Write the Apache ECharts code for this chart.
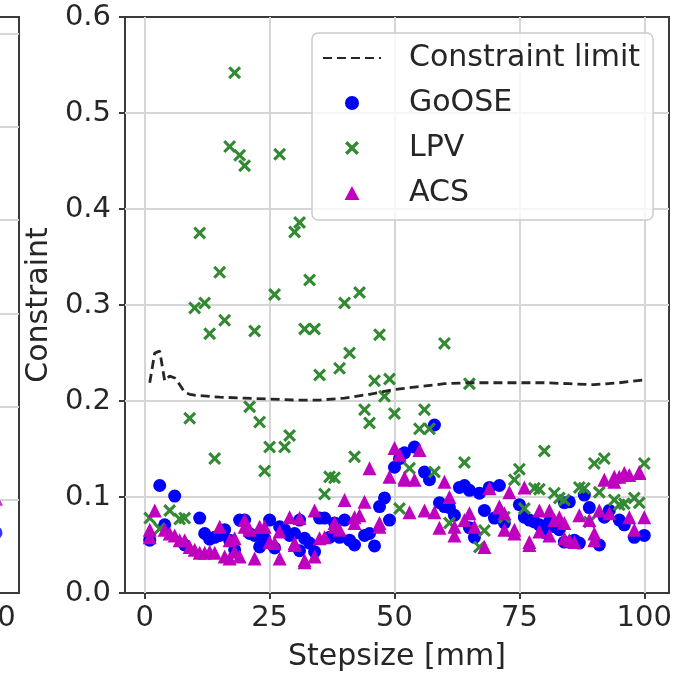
<!DOCTYPE html>
<html>
<head>
<meta charset="utf-8">
<script src="https://cdn.jsdelivr.net/npm/echarts@6/dist/echarts.min.js"></script>
<style>
  html, body { margin: 0; padding: 0; background: #fff; }
  #vis { width: 693px; height: 674px; }
</style>
</head>
<body>
<div id="vis"></div>
<script>
// ---- data ----
const xTicks = [0, 25, 50, 75, 100];

// dashed constraint limit
const limitX = [1, 2, 3, 4, 5, 6, 7, 8, 9, 10, 15, 20, 25, 30, 35, 40, 45, 50, 55, 60, 65, 70, 75, 80, 85, 90, 95, 100];
const limitY = [0.219, 0.250, 0.252, 0.221, 0.226, 0.224, 0.217, 0.209, 0.207, 0.206, 0.204, 0.203, 0.202, 0.201, 0.201, 0.203, 0.207, 0.212, 0.215, 0.218, 0.219, 0.219, 0.219, 0.219, 0.218, 0.217, 0.219, 0.222];

// GoOSE (blue circles)
const gooseX = [1, 3, 4, 6, 8, 11, 12, 13, 14, 15, 16, 17, 18, 19, 20, 21, 22, 23, 24, 25, 26, 27, 28, 29, 30, 31, 31, 32, 33, 34, 35, 36, 37, 38, 39, 40, 41, 42, 44, 45, 46, 47, 48, 49, 50, 51, 52, 54, 56, 57, 58, 59, 60, 61, 62, 63, 64, 65, 65, 66, 67, 68, 69, 70, 71, 72, 75, 76, 77, 78, 79, 80, 81, 82, 83, 84, 84, 85, 86, 87, 88, 89, 91, 92, 93, 95, 96, 98, 100];
const gooseY = [0.055, 0.112, 0.071, 0.101, 0.050, 0.078, 0.062, 0.056, 0.058, 0.060, 0.066, 0.055, 0.045, 0.076, 0.076, 0.062, 0.060, 0.048, 0.057, 0.076, 0.047, 0.069, 0.066, 0.060, 0.062, 0.076, 0.044, 0.057, 0.052, 0.043, 0.078, 0.078, 0.058, 0.073, 0.058, 0.076, 0.055, 0.050, 0.060, 0.062, 0.049, 0.090, 0.099, 0.076, 0.131, 0.140, 0.146, 0.152, 0.126, 0.118, 0.175, 0.094, 0.090, 0.089, 0.081, 0.110, 0.112, 0.107, 0.068, 0.058, 0.104, 0.086, 0.110, 0.078, 0.112, 0.073, 0.092, 0.079, 0.076, 0.074, 0.071, 0.063, 0.074, 0.069, 0.066, 0.094, 0.053, 0.095, 0.055, 0.052, 0.102, 0.089, 0.050, 0.079, 0.086, 0.076, 0.071, 0.058, 0.060];

// LPV (green crosses)
const lpvX = [1, 3, 5, 7, 8, 9, 10, 11, 12, 13, 14, 15, 16, 17, 18, 19, 20, 21, 22, 23, 24, 25, 26, 27, 28, 29, 30, 31, 32, 33, 34, 35, 36, 37, 38, 39, 40, 41, 42, 43, 44, 45, 46, 47, 48, 49, 50, 51, 53, 55, 56, 57, 58, 60, 61, 64, 65, 67, 68, 72, 74, 75, 76, 78, 79, 80, 82, 83, 84, 87, 88, 89, 90, 91, 92, 94, 95, 96, 98, 99, 100];
const lpvY = [0.078, 0.067, 0.086, 0.077, 0.078, 0.182, 0.297, 0.375, 0.302, 0.270, 0.140, 0.334, 0.284, 0.465, 0.542, 0.456, 0.445, 0.194, 0.273, 0.178, 0.127, 0.152, 0.311, 0.457, 0.152, 0.164, 0.376, 0.386, 0.275, 0.326, 0.275, 0.227, 0.103, 0.121, 0.120, 0.234, 0.302, 0.250, 0.142, 0.313, 0.191, 0.177, 0.221, 0.269, 0.205, 0.223, 0.187, 0.088, 0.130, 0.171, 0.191, 0.171, 0.126, 0.260, 0.073, 0.136, 0.218, 0.048, 0.065, 0.079, 0.118, 0.129, 0.088, 0.109, 0.108, 0.148, 0.104, 0.099, 0.097, 0.110, 0.109, 0.074, 0.135, 0.105, 0.140, 0.097, 0.092, 0.093, 0.099, 0.094, 0.135];

// ACS (magenta triangles)
const acsX = [1, 1, 2, 4, 5, 6, 7, 8, 9, 10, 11, 12, 13, 14, 15, 16, 17, 17, 18, 18, 19, 20, 20, 21, 22, 23, 24, 25, 26, 27, 27, 29, 30, 30, 31, 32, 32, 34, 34, 35, 36, 38, 38, 39, 40, 42, 42, 43, 44, 45, 47, 47, 49, 50, 51, 52, 52, 53, 54, 55, 56, 58, 59, 60, 61, 62, 62, 64, 65, 66, 68, 69, 71, 71, 72, 72, 73, 74, 74, 76, 77, 77, 79, 79, 81, 81, 82, 83, 84, 84, 85, 86, 87, 89, 90, 90, 91, 92, 93, 94, 94, 95, 96, 97, 97, 98, 99, 99, 100];
const acsY = [0.066, 0.058, 0.086, 0.066, 0.062, 0.060, 0.055, 0.055, 0.048, 0.045, 0.042, 0.042, 0.043, 0.042, 0.069, 0.038, 0.036, 0.055, 0.057, 0.043, 0.038, 0.076, 0.069, 0.066, 0.036, 0.069, 0.069, 0.053, 0.052, 0.036, 0.064, 0.079, 0.050, 0.052, 0.078, 0.034, 0.032, 0.086, 0.038, 0.057, 0.058, 0.069, 0.073, 0.066, 0.097, 0.079, 0.073, 0.081, 0.095, 0.130, 0.069, 0.073, 0.121, 0.151, 0.144, 0.118, 0.120, 0.084, 0.118, 0.149, 0.086, 0.084, 0.068, 0.116, 0.100, 0.069, 0.060, 0.076, 0.083, 0.069, 0.048, 0.109, 0.090, 0.089, 0.083, 0.066, 0.105, 0.066, 0.062, 0.110, 0.053, 0.050, 0.086, 0.064, 0.086, 0.060, 0.076, 0.079, 0.073, 0.057, 0.055, 0.053, 0.081, 0.076, 0.062, 0.055, 0.086, 0.118, 0.083, 0.116, 0.121, 0.121, 0.125, 0.123, 0.079, 0.066, 0.125, 0.126, 0.079];

// edge of the neighbouring panel on the left (only a sliver is visible)
const leftGooseX = [101.6];
const leftGooseY = [0.645];
const leftAcsX = [101.6];
const leftAcsY = [1.01];

// ---- chart ----
const zip = (xs, ys) => xs.map((x, i) => [x, ys[i]]);
const font = 'DejaVu Sans';
const textColor = '#262626';
const spine = '#3a3a3a';
const gridColor = '#d6d6d6';
const crossPath = 'path://M1.7,0L5,3.3L8.3,0L10,1.7L6.7,5L10,8.3L8.3,10L5,6.7L1.7,10L0,8.3L3.3,5L0,1.7Z';
const triPath = 'path://M5,0L10,9.4L0,9.4Z';

const chart = echarts.init(document.getElementById('vis'), null, { renderer: 'canvas' });

function xAxisFor(gridIndex, name, min, max) {
  return {
    gridIndex, type: 'value', min, max,
    name, nameLocation: 'middle', nameGap: 49,
    nameTextStyle: { fontFamily: font, fontSize: 30, color: textColor },
    axisLine: { show: false, onZero: false },
    axisTick: { show: true, length: 6, customValues: xTicks, lineStyle: { color: spine, width: 2 } },
    axisLabel: { customValues: xTicks, fontFamily: font, fontSize: 29, color: textColor, margin: 11 },
    splitLine: { show: true, lineStyle: { color: gridColor, width: 2 } }
  };
}

const option = {
  animation: false,
  backgroundColor: '#fff',
  grid: [
    { left: 125, right: 24, top: 17, bottom: 81, show: true, borderColor: spine, borderWidth: 2, outerBoundsMode: 'none' },
    { left: -525, width: 544, top: 17, bottom: 81, show: true, borderColor: spine, borderWidth: 2, outerBoundsMode: 'none' }
  ],
  xAxis: [xAxisFor(0, 'Stepsize [mm]', -3.95, 104.95), xAxisFor(1, '', -2.6, 106.2)],
  yAxis: [
    {
      gridIndex: 0, type: 'value', min: 0, max: 0.6, interval: 0.1,
      name: 'Constraint', nameLocation: 'middle', nameGap: 64,
      nameTextStyle: { fontFamily: font, fontSize: 30, color: textColor },
      axisLine: { show: false, onZero: false },
      axisTick: { show: true, length: 6, lineStyle: { color: spine, width: 2 } },
      axisLabel: { fontFamily: font, fontSize: 29, color: textColor, margin: 14, formatter: v => v.toFixed(1) },
      splitLine: { show: true, showMinLine: false, showMaxLine: false, lineStyle: { color: gridColor, width: 2 } }
    },
    {
      gridIndex: 1, type: 'value', min: 0, max: 6.18, interval: 1,
      axisLine: { show: false, onZero: false },
      axisTick: { show: true, length: 6, lineStyle: { color: spine, width: 2 } },
      axisLabel: { show: false },
      splitLine: { show: true, showMinLine: false, showMaxLine: false, lineStyle: { color: gridColor, width: 2 } }
    }
  ],
  legend: {
    data: [
      { name: 'Constraint limit', itemStyle: { opacity: 0 } },
      { name: 'GoOSE' },
      { name: 'LPV' },
      { name: 'ACS', icon: triPath }
    ],
    orient: 'vertical', left: 312, top: 33,
    padding: [10, 13, 12, 10], itemGap: 15, itemWidth: 58, itemHeight: 14,
    backgroundColor: 'rgba(255,255,255,0.8)', borderColor: '#cccccc', borderWidth: 1.5, borderRadius: 6,
    textStyle: { fontFamily: font, fontSize: 30, color: textColor, lineHeight: 30, padding: [0, 0, 0, 23] },
    selectedMode: false
  },
  series: [
    {
      name: 'GoOSE', type: 'scatter', data: zip(gooseX, gooseY),
      symbol: 'circle', symbolSize: 13, itemStyle: { color: '#0000ff', opacity: 1 }, z: 2
    },
    {
      name: 'LPV', type: 'scatter', data: zip(lpvX, lpvY),
      symbol: crossPath, symbolSize: 13, itemStyle: { color: '#338a33', opacity: 1 }, z: 2
    },
    {
      name: 'ACS', type: 'scatter', data: zip(acsX, acsY),
      symbol: 'triangle', symbolSize: 14, itemStyle: { color: '#bf00bf', opacity: 1 }, z: 2
    },
    {
      name: 'Constraint limit', type: 'line', data: zip(limitX, limitY),
      showSymbol: false, symbol: 'none', smooth: false,
      itemStyle: { color: '#262626', opacity: 0 },
      lineStyle: { color: '#262626', width: 2.8, type: [9, 5] }, z: 3
    },
    {
      type: 'scatter', xAxisIndex: 1, yAxisIndex: 1, data: zip(leftGooseX, leftGooseY),
      symbol: 'circle', symbolSize: 13, itemStyle: { color: '#0000ff' }, z: 2
    },
    {
      type: 'scatter', xAxisIndex: 1, yAxisIndex: 1, data: zip(leftAcsX, leftAcsY),
      symbol: 'triangle', symbolSize: 14, itemStyle: { color: '#bf00bf' }, z: 2
    }
  ]
};

chart.setOption(option);
window.addEventListener('resize', () => chart.resize());
</script>
</body>
</html>
